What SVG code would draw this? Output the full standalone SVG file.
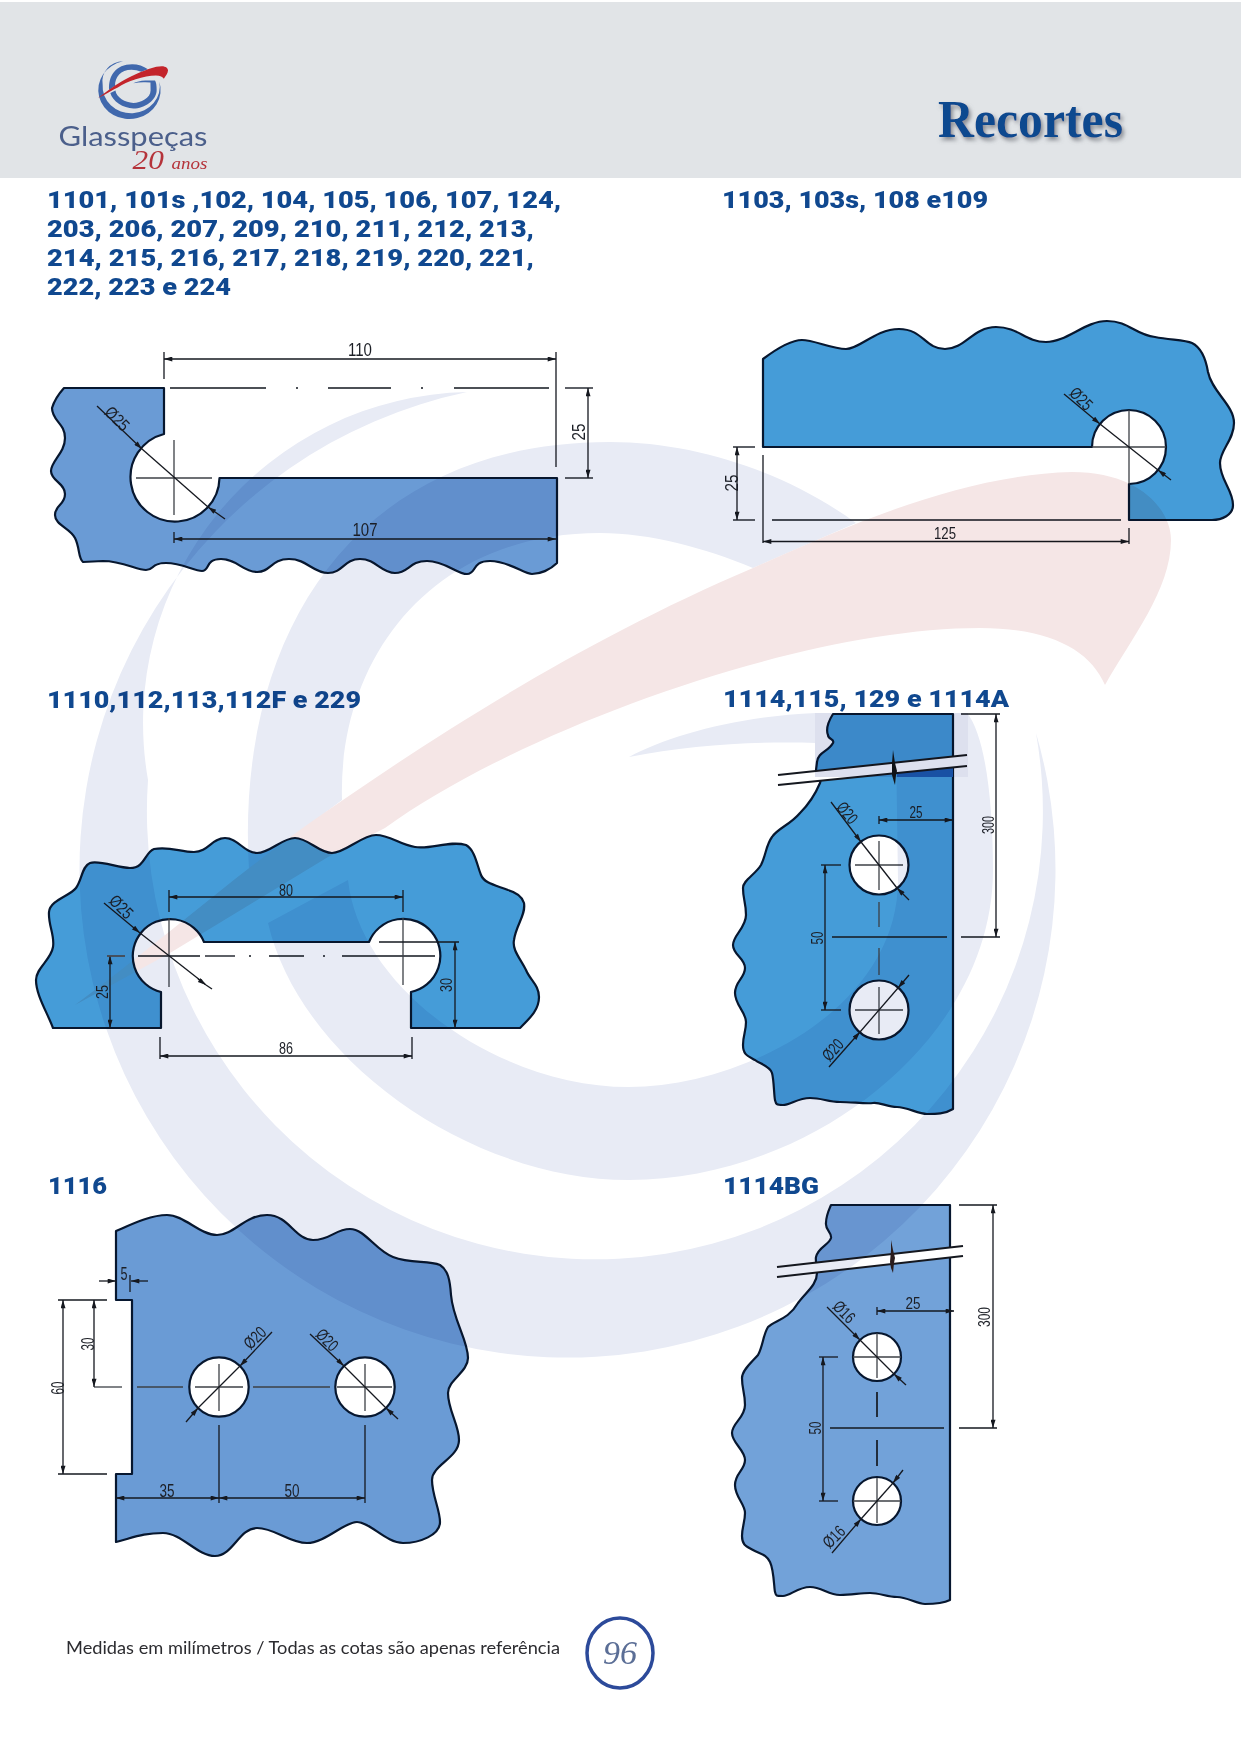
<svg xmlns="http://www.w3.org/2000/svg" width="1241" height="1754" viewBox="0 0 1241 1754">
<style>
text{font-family:"Liberation Sans",Arial,sans-serif}
.h{font-family:Roboto,"Liberation Sans",sans-serif;font-weight:900;font-size:24.5px;fill:#10488f}
.d{font-size:19px;fill:#1c1f26;text-anchor:middle;dominant-baseline:central}
.s{font-size:17px}
.glass{fill-rule:evenodd;stroke:#07172f;stroke-width:2.2;stroke-linejoin:round}
.g1{fill:#6a9bd5}.g2{fill:#459cd8}.g3{fill:#72a2d9}
line{stroke:#15181f;stroke-width:1.3;fill:none}
.c{stroke:#3c4046}
.k{stroke:#4c5056;stroke-width:1.8}
.a{marker-start:url(#ah);marker-end:url(#ah)}
.e{marker-end:url(#ah)}
#watermark{mix-blend-mode:multiply}
</style>
<defs>
<marker id="ah" viewBox="0 0 10 6" refX="10" refY="3" markerWidth="10" markerHeight="5" markerUnits="userSpaceOnUse" orient="auto-start-reverse"><path d="M0,0L10,3L0,6Z" fill="#15181f"/></marker>
<filter id="sh" x="-10%" y="-20%" width="125%" height="150%"><feDropShadow dx="2" dy="3" stdDeviation="2" flood-color="#6d7078" flood-opacity=".8"/></filter>
<path id="wA" d="M467,392A488,488 0 1 0 1036,733A448,448 0 1 1 148,780A331,331 0 0 1 467,392Z"/>
<path id="wB" d="M249,870C235,640 350,442 610,442C700,442 790,475 856,523L753,568C705,548 650,533 600,533C430,533 338,660 342,800Z"/>
<path id="wG" d="M268,923L348,880C360,990 500,1087 629,1087C740,1087 898,1010 898,880L896,747L816,743C757,741 690,745 629,757C670,735 740,716 816,713L967,713C985,735 993,800 993,870C993,1040 810,1180 629,1180C470,1180 300,1060 268,923Z"/>
<path id="wR" d="M75,1005C150,950 230,880 304,827C400,760 560,650 753,568C850,525 960,475 1072,472C1140,472 1171,510 1171,540C1171,590 1130,640 1105,685C1090,650 1050,628 980,628C800,628 520,730 385,828L328,857L170,953Z"/>
</defs>
<rect width="1241" height="1754" fill="#fff"/>

<g id="part-1101">
<path class="glass g1" d="M64,388H164V434A44.5,44.5 0 1 0 219.5,478H557V563C550,570 540,574 532,574S509,561 490,561S477,574 467,574S445,561 427,561S409,573 395,573S376,559 360,559S343,573 328,573S307,559 289,559S271,572 257,572S237,559 221,559S210,571 202,571S182,563 166,563S155,570 146,570S122,561 103,561L83,562C78,558 80,548 75,538S55,525 55,515S65,505 65,494S51,481 51,471S65,453 65,438S52,421 52,408Q55,398 64,388Z"/>
</g>
<g id="part-1103">
<path class="glass g2" d="M763,359C775,350 790,340 802,340S832,349 846,349S875,329 899,329S925,349 945,349S973,327 996,327S1025,342 1046,342S1085,321 1107,321S1135,335 1155,337C1170,340 1185,340 1192,343C1202,348 1206,360 1208,372C1212,392 1234,405 1234,423C1234,440 1220,450 1220,463C1220,480 1233,490 1233,505C1233,515 1222,520 1212,520H1129V484A37,37 0 1 0 1092,447H763Z"/>
</g>
<g id="part-1110">
<path class="glass g2" d="M53,1028H161V992A37,37 0 1 1 204,942H369A37,37 0 1 1 411,992V1028H520C530,1018 539,1010 539,997C539,985 530,980 526,970C520,958 512,950 514,940C516,925 526,915 524,903C522,895 515,892 508,890C495,885 484,883 481,875C477,865 475,850 466,845C450,840 430,850 415,847C400,845 390,835 376,835S345,853 332,853S308,838 295,838S270,853 257,853S238,838 225,838S208,852 194,852S170,846 154,849C145,852 145,868 130,868C118,868 100,860 90,863C82,866 82,880 76,888C70,896 50,900 49,912C48,925 55,935 53,947C51,960 36,968 36,980C36,995 47,1012 53,1028Z"/>
</g>
<g id="part-1114">
<path class="glass g2" d="M833,714H953V1109C945,1114 936,1114 927,1114S907,1107 897,1107S880,1102 873,1103S852,1102 840,1102S822,1098 810,1098S790,1105 783,1105S776,1104 775,1100S774,1080 772,1073S760,1064 755,1060C748,1056 743,1055 743,1045S746,1032 746,1022S735,1005 735,993S745,978 745,968S733,955 733,945S746,928 746,915S743,900 743,888C743,880 755,875 761,865C766,855 766,845 772,837C778,828 790,825 800,813C808,805 815,795 820,783C822,778 818,775 816,770L817,762C818,752 828,752 833,743C835,738 828,740 828,735C826,730 828,722 833,714ZM849.5,865a29.5,29.5 0 1,0 59,0a29.5,29.5 0 1,0 -59,0ZM849.5,1010a29.5,29.5 0 1,0 59,0a29.5,29.5 0 1,0 -59,0Z"/>
<path d="M897,773L953,765V777H897Z" fill="#1c5cb0"/>
<polygon points="778,775 967,755 967,766 778,785" fill="#fff"/>
<line x1="778" y1="775" x2="967" y2="755" style="stroke-width:2"/><line x1="778" y1="785" x2="967" y2="766" style="stroke-width:2"/>
<path d="M893,750L895,763L897,771L896,775L895,785L894,782L892,775L892,763Z" fill="#101418"/>
</g>
<g id="part-1116">
<path class="glass g1" d="M116,1231C130,1225 150,1215 167,1215S200,1235 217,1235S245,1215 267,1215S295,1240 313,1240S335,1229 350,1229S375,1250 393,1257S428,1260 440,1265C448,1270 450,1280 451,1295C453,1320 468,1340 468,1358C468,1372 448,1380 448,1393C448,1410 459,1425 459,1440C459,1458 432,1465 432,1480C432,1495 440,1510 440,1522C440,1535 420,1543 403,1543S370,1522 357,1522S325,1543 307,1543S275,1528 257,1528S233,1556 215,1556S182,1533 163,1533S135,1537 116,1542V1474H132V1300H116ZM189.3,1387a29.7,29.7 0 1,0 59.4,0a29.7,29.7 0 1,0 -59.4,0ZM335.3,1387a29.7,29.7 0 1,0 59.4,0a29.7,29.7 0 1,0 -59.4,0Z"/>
</g>
<g id="part-1114BG">
<path class="glass g3" d="M831,1205H950V1600C942,1604 933,1604 925,1604S907,1597 897,1597S880,1593 870,1593S852,1595 840,1595S822,1587 810,1587S790,1596 783,1596S776,1596 775,1592S774,1570 770,1562S760,1554 753,1550C746,1546 742,1545 742,1536S745,1522 745,1513S735,1497 735,1485S745,1470 745,1460S732,1443 732,1433S745,1418 745,1405S742,1390 742,1378C742,1370 752,1362 758,1355C763,1346 763,1335 768,1327C775,1320 788,1320 798,1303C806,1292 817,1285 817,1273C818,1268 815,1262 816,1257C818,1247 829,1245 831,1238C832,1232 825,1230 826,1223C826,1216 828,1212 831,1205ZM853,1357a24,24 0 1,0 48,0a24,24 0 1,0 -48,0ZM853,1501a24,24 0 1,0 48,0a24,24 0 1,0 -48,0Z"/>
<polygon points="777,1267 963,1246 963,1256 777,1277" fill="#fff"/>
<line x1="777" y1="1267" x2="963" y2="1246" style="stroke-width:2"/><line x1="777" y1="1277" x2="963" y2="1256" style="stroke-width:2"/>
<path d="M891,1240L893,1250L895,1258L894,1263L893,1273L891,1268L890,1262L891,1250Z" fill="#2a1c1c"/>
</g>

<g id="connectors">
<g id="dims-1101">
<line class="a" x1="164" y1="359" x2="556" y2="359"/><line x1="164" y1="352" x2="164" y2="379"/><line x1="556" y1="352" x2="556" y2="467"/>
<line class="k" x1="170" y1="388" x2="266" y2="388"/><line class="k" x1="296" y1="388" x2="298" y2="388"/><line class="k" x1="328" y1="388" x2="391" y2="388"/><line class="k" x1="421" y1="388" x2="423" y2="388"/><line class="k" x1="454" y1="388" x2="549" y2="388"/>
<line class="k" x1="565" y1="388" x2="593" y2="388"/><line class="k" x1="565" y1="478" x2="593" y2="478"/><line class="a" x1="588" y1="388" x2="588" y2="478"/>
<line class="c" x1="136" y1="478" x2="212" y2="478"/><line class="c" x1="174" y1="440" x2="174" y2="515"/>
<line x1="142" y1="449" x2="208" y2="507"/><line class="e" x1="97" y1="406" x2="142" y2="449"/><line class="e" x1="225" y1="519" x2="208" y2="507"/>
<line class="a" x1="174" y1="539" x2="556" y2="539"/><line x1="174" y1="532" x2="174" y2="543"/>
<text class="d" transform="translate(360,349)" textLength="24" lengthAdjust="spacingAndGlyphs">110</text>
<text class="d" transform="translate(365,529)" textLength="25" lengthAdjust="spacingAndGlyphs">107</text>
<text class="d" transform="translate(578,432) rotate(-90)" textLength="17" lengthAdjust="spacingAndGlyphs">25</text>
<text class="d s" transform="translate(117,419) rotate(45)" textLength="27" lengthAdjust="spacingAndGlyphs">Ø25</text>
</g>
<g id="dims-1103">
<line class="k" x1="733" y1="447" x2="755" y2="447"/><line class="k" x1="733" y1="520" x2="755" y2="520"/><line class="a" x1="737" y1="447" x2="737" y2="520"/>
<line x1="763" y1="455" x2="763" y2="543"/><line class="k" x1="772" y1="520" x2="1121" y2="520"/><line class="a" x1="763" y1="541.5" x2="1129" y2="541.5"/><line x1="1129" y1="528" x2="1129" y2="544"/>
<line class="c" x1="1092" y1="447" x2="1166" y2="447"/><line class="c" x1="1129" y1="410" x2="1129" y2="484"/>
<line x1="1100" y1="424" x2="1158" y2="470"/><line class="e" x1="1064" y1="394" x2="1100" y2="424"/><line class="e" x1="1171" y1="480" x2="1158" y2="470"/>
<text class="d" transform="translate(731,483) rotate(-90)" textLength="17" lengthAdjust="spacingAndGlyphs">25</text>
<text class="d s" transform="translate(945,533)" textLength="22" lengthAdjust="spacingAndGlyphs">125</text>
<text class="d s" transform="translate(1081,399) rotate(45)" textLength="25" lengthAdjust="spacingAndGlyphs">Ø25</text>
</g>
<g id="dims-1110">
<line class="a" x1="169" y1="897" x2="403" y2="897"/><line x1="169" y1="890" x2="169" y2="912"/><line x1="403" y1="890" x2="403" y2="912"/>
<line class="k" x1="138" y1="956" x2="200" y2="956"/><line class="k" x1="205" y1="956" x2="235" y2="956"/><line class="k" x1="249" y1="956" x2="251" y2="956"/><line class="k" x1="269" y1="956" x2="304" y2="956"/><line class="k" x1="323" y1="956" x2="325" y2="956"/><line class="k" x1="342" y1="956" x2="435" y2="956"/>
<line class="c" x1="169" y1="918" x2="169" y2="987"/><line class="c" x1="403" y1="918" x2="403" y2="985"/>
<line x1="140" y1="933" x2="205" y2="984"/><line class="e" x1="104" y1="903" x2="140" y2="933"/><line class="e" x1="198" y1="979" x2="206" y2="985"/><line x1="206" y1="985" x2="212" y2="989"/>
<line class="a" x1="110" y1="956" x2="110" y2="1028"/><line class="k" x1="107" y1="956" x2="125" y2="956"/>
<line class="a" x1="455" y1="942" x2="455" y2="1028"/><line x1="379" y1="942" x2="459" y2="942"/>
<line class="a" x1="160" y1="1056" x2="412" y2="1056"/><line x1="160" y1="1037" x2="160" y2="1059"/><line x1="412" y1="1037" x2="412" y2="1059"/>
<text class="d s" transform="translate(286,890)" textLength="14" lengthAdjust="spacingAndGlyphs">80</text>
<text class="d s" transform="translate(286,1048)" textLength="14" lengthAdjust="spacingAndGlyphs">86</text>
<text class="d s" transform="translate(102,992) rotate(-90)" textLength="14" lengthAdjust="spacingAndGlyphs">25</text>
<text class="d s" transform="translate(446,985) rotate(-90)" textLength="14" lengthAdjust="spacingAndGlyphs">30</text>
<text class="d s" transform="translate(121,907) rotate(45)" textLength="26" lengthAdjust="spacingAndGlyphs">Ø25</text>
</g>
<g id="dims-1114">
<line class="a" x1="879" y1="820" x2="953" y2="820"/><line x1="879" y1="816" x2="879" y2="824"/>
<line class="c" x1="855" y1="865" x2="903" y2="865"/><line class="c" x1="879" y1="841" x2="879" y2="890"/><line class="c" x1="879" y1="902" x2="879" y2="927"/><line class="c" x1="879" y1="948" x2="879" y2="975"/><line class="c" x1="879" y1="987" x2="879" y2="1034"/><line class="c" x1="855" y1="1010" x2="903" y2="1010"/>
<line x1="861" y1="842" x2="897" y2="888"/><line class="e" x1="831" y1="802" x2="861" y2="842"/><line class="e" x1="909" y1="900" x2="897" y2="888"/>
<line x1="860" y1="1032" x2="898" y2="988"/><line class="e" x1="829" y1="1067" x2="860" y2="1032"/><line class="e" x1="909" y1="975" x2="898" y2="988"/>
<line class="a" x1="825" y1="865" x2="825" y2="1010"/><line x1="821" y1="865" x2="841" y2="865"/><line x1="821" y1="1010" x2="841" y2="1010"/>
<line x1="832" y1="937" x2="947" y2="937"/><line x1="961" y1="937" x2="1000" y2="937"/><line x1="961" y1="714" x2="1000" y2="714"/><line class="a" x1="996" y1="714" x2="996" y2="937"/>
<text class="d s" transform="translate(916,812)" textLength="13" lengthAdjust="spacingAndGlyphs">25</text>
<text class="d s" transform="translate(817,938) rotate(-90)" textLength="13" lengthAdjust="spacingAndGlyphs">50</text>
<text class="d s" transform="translate(988,825) rotate(-90)" textLength="18" lengthAdjust="spacingAndGlyphs">300</text>
<text class="d s" transform="translate(847,813) rotate(50)" textLength="23" lengthAdjust="spacingAndGlyphs">Ø20</text>
<text class="d s" transform="translate(833,1050) rotate(-48)" textLength="23" lengthAdjust="spacingAndGlyphs">Ø20</text>
</g>
<g id="dims-1116">
<line class="c" x1="137" y1="1387" x2="183" y2="1387"/><line class="c" x1="94" y1="1387" x2="122" y2="1387"/><line class="c" x1="195" y1="1387" x2="243" y2="1387"/><line class="c" x1="253" y1="1387" x2="330" y2="1387"/><line class="c" x1="337" y1="1387" x2="392" y2="1387"/>
<line class="c" x1="219" y1="1364" x2="219" y2="1411"/><line x1="219" y1="1425" x2="219" y2="1503"/><line class="c" x1="365" y1="1364" x2="365" y2="1411"/><line x1="365" y1="1425" x2="365" y2="1503"/>
<line x1="240" y1="1366" x2="198" y2="1408"/><line class="e" x1="272" y1="1332" x2="240" y2="1366"/><line class="e" x1="186" y1="1422" x2="198" y2="1408"/>
<line x1="344" y1="1366" x2="386" y2="1408"/><line class="e" x1="310" y1="1334" x2="344" y2="1366"/><line class="e" x1="398" y1="1419" x2="386" y2="1408"/>
<line class="e" x1="99" y1="1281" x2="116" y2="1281"/><line class="e" x1="148" y1="1281" x2="131" y2="1281"/><line x1="130" y1="1275" x2="130" y2="1292"/>
<line class="a" x1="94" y1="1300" x2="94" y2="1387"/><line x1="58" y1="1300" x2="107" y2="1300"/>
<line class="a" x1="63" y1="1300" x2="63" y2="1474"/><line x1="58" y1="1474" x2="107" y2="1474"/>
<line class="a" x1="116" y1="1498" x2="219" y2="1498"/><line class="a" x1="219" y1="1498" x2="365" y2="1498"/>
<text class="d" transform="translate(124,1273)" textLength="7" lengthAdjust="spacingAndGlyphs">5</text>
<text class="d" transform="translate(87,1344) rotate(-90)" textLength="13" lengthAdjust="spacingAndGlyphs">30</text>
<text class="d" transform="translate(57,1388) rotate(-90)" textLength="13" lengthAdjust="spacingAndGlyphs">60</text>
<text class="d" transform="translate(167,1490)" textLength="15" lengthAdjust="spacingAndGlyphs">35</text>
<text class="d" transform="translate(292,1490)" textLength="15" lengthAdjust="spacingAndGlyphs">50</text>
<text class="d s" transform="translate(255,1338) rotate(-45)" textLength="24" lengthAdjust="spacingAndGlyphs">Ø20</text>
<text class="d s" transform="translate(327,1340) rotate(45)" textLength="24" lengthAdjust="spacingAndGlyphs">Ø20</text>
</g>
<g id="dims-1114BG">
<line class="a" x1="877" y1="1311" x2="954" y2="1311"/><line x1="877" y1="1307" x2="877" y2="1315"/>
<line class="c" x1="853" y1="1357" x2="901" y2="1357"/><line class="c" x1="877" y1="1333" x2="877" y2="1378"/><line x1="877" y1="1392" x2="877" y2="1417" style="stroke-width:1.7"/><line x1="877" y1="1440" x2="877" y2="1466" style="stroke-width:1.7"/><line class="c" x1="877" y1="1478" x2="877" y2="1523"/><line class="c" x1="853" y1="1501" x2="901" y2="1501"/>
<line x1="860" y1="1340" x2="894" y2="1374"/><line class="e" x1="827" y1="1307" x2="860" y2="1340"/><line class="e" x1="906" y1="1385" x2="894" y2="1374"/>
<line x1="861" y1="1519" x2="893" y2="1483"/><line class="e" x1="832" y1="1553" x2="861" y2="1519"/><line class="e" x1="903" y1="1470" x2="893" y2="1483"/>
<line class="a" x1="823" y1="1357" x2="823" y2="1501"/><line x1="819" y1="1357" x2="838" y2="1357"/><line x1="819" y1="1501" x2="838" y2="1501"/>
<line x1="830" y1="1428" x2="944" y2="1428"/><line x1="959" y1="1428" x2="997" y2="1428"/><line x1="959" y1="1205" x2="997" y2="1205"/><line class="a" x1="993" y1="1205" x2="993" y2="1428"/>
<text class="d s" transform="translate(913,1303)" textLength="15" lengthAdjust="spacingAndGlyphs">25</text>
<text class="d s" transform="translate(815,1428) rotate(-90)" textLength="13" lengthAdjust="spacingAndGlyphs">50</text>
<text class="d s" transform="translate(984,1317) rotate(-90)" textLength="20" lengthAdjust="spacingAndGlyphs">300</text>
<text class="d s" transform="translate(844,1312) rotate(45)" textLength="24" lengthAdjust="spacingAndGlyphs">Ø16</text>
<text class="d s" transform="translate(834,1537) rotate(-45)" textLength="24" lengthAdjust="spacingAndGlyphs">Ø16</text>
</g>
</g>

<g id="headings">
<text class="h" x="47" y="208" textLength="514" lengthAdjust="spacingAndGlyphs">1101, 101s ,102, 104, 105, 106, 107, 124,</text>
<text class="h" x="47" y="237" textLength="487" lengthAdjust="spacingAndGlyphs">203, 206, 207, 209, 210, 211, 212, 213,</text>
<text class="h" x="47" y="266" textLength="487" lengthAdjust="spacingAndGlyphs">214, 215, 216, 217, 218, 219, 220, 221,</text>
<text class="h" x="47" y="295" textLength="184" lengthAdjust="spacingAndGlyphs">222, 223 e 224</text>
<text class="h" x="722" y="208" textLength="266" lengthAdjust="spacingAndGlyphs">1103, 103s, 108 e109</text>
<text class="h" x="47" y="708" textLength="314" lengthAdjust="spacingAndGlyphs">1110,112,113,112F e 229</text>
<text class="h" x="723" y="707" textLength="286" lengthAdjust="spacingAndGlyphs">1114,115, 129 e 1114A</text>
<text class="h" x="48" y="1194" textLength="59" lengthAdjust="spacingAndGlyphs">1116</text>
<text class="h" x="723" y="1194" textLength="96" lengthAdjust="spacingAndGlyphs">1114BG</text>
</g>

<g id="watermark">
<g fill="#e8ebf5"><use href="#wA"/><use href="#wB"/><use href="#wG"/></g>
<rect x="815" y="713" width="153" height="64" fill="#dde0ee"/>
<use href="#wR" fill="#f5e6e6"/>
</g>

<g id="header">
<rect y="2" width="1241" height="176" fill="#e1e4e7"/>
<g id="logo" transform="translate(93.2,37.9) scale(.0639,.0598)">
<g fill="#4068ad"><use href="#wA"/><use href="#wB"/><use href="#wG"/></g>
<use href="#wR" fill="#c3242b"/>
</g>
<text x="58.5" y="145.5" font-size="27" fill="#4b5f8b" textLength="149" lengthAdjust="spacingAndGlyphs" style="font-family:'Lato','Liberation Sans',sans-serif">Glasspeças</text>
<text x="132.5" y="169" fill="#b5333a" style="font-family:'Liberation Serif',serif;font-style:italic" font-size="28" textLength="75" lengthAdjust="spacingAndGlyphs">20 <tspan font-size="17">anos</tspan></text>
<text x="938" y="137" font-size="52" font-weight="700" fill="#10488f" filter="url(#sh)" textLength="185" lengthAdjust="spacingAndGlyphs" style="font-family:'Liberation Serif',serif">Recortes</text>
</g>

<g id="footer">
<text x="66" y="1654" font-size="18" fill="#2c2c30" textLength="494" lengthAdjust="spacingAndGlyphs" style="font-family:'Lato','Liberation Sans',sans-serif">Medidas em milímetros / Todas as cotas são apenas referência</text>
<ellipse cx="620" cy="1653" rx="33" ry="35" fill="none" stroke="#2c4a9a" stroke-width="3.5"/>
<text x="620" y="1664" font-size="34" text-anchor="middle" fill="#5b6e96" style="font-family:'Liberation Serif',serif;font-style:italic">96</text>
</g>
</svg>
